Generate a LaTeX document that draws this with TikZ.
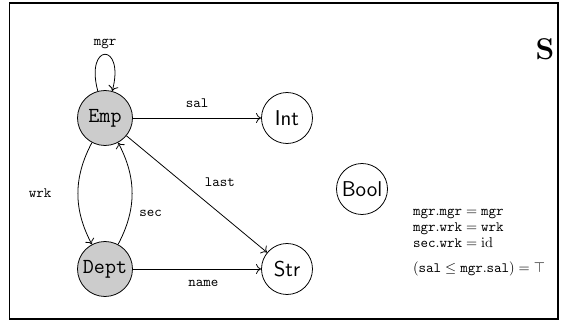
\documentclass[tikz,border=0pt]{standalone}
\usetikzlibrary{arrows.meta}
\begin{document}
\begin{tikzpicture}[x=0.7pt,y=-0.7pt,line width=0.55pt,
  tnode/.style={circle,draw,fill=black!20,minimum size=38.5pt,inner sep=1pt,font=\fontsize{15}{18}\selectfont\ttfamily},
  snode/.style={circle,draw,minimum size=35.7pt,inner sep=1pt,font=\fontsize{15}{18}\selectfont\sffamily},
  lbl/.style={font=\fontsize{10}{12}\selectfont\ttfamily},
  conn/.style={-{To[length=3.6pt,width=7pt]}}]
\useasboundingbox (0,0) rectangle (580,320);
\draw[line width=0.9pt] (9.5,3) rectangle (558,319);
\node[tnode] (emp) at (105,118) {Emp};
\node[tnode] (dept) at (105,269) {Dept};
\node[snode] (int) at (287,118) {Int};
\node[snode] (str) at (287,269) {Str};
\node[snode] (bool) at (362,189) {Bool};
\draw[conn] (emp) to[loop above,looseness=9] node[lbl,above] {mgr} (emp);
\draw[conn] (emp) -- node[lbl,above=4pt] {sal} (int);
\draw[conn] (emp) -- node[lbl,pos=0.5,above right=2pt] {last} (str);
\draw[conn] (dept) -- node[lbl,pos=0.55,below=4pt] {name} (str);
\draw[conn] (emp) to[bend right=28] node[lbl,midway,left=15pt] {wrk} (dept);
\draw[conn] (dept) to[bend right=28] node[lbl,pos=0.3,right=3pt] {sec} (emp);
\node[anchor=west,align=left,font=\fontsize{10}{11.2}\selectfont] (eqs) at (408,242.5)
  {$\mathtt{mgr}.\mathtt{mgr}=\mathtt{mgr}$\\
   $\mathtt{mgr}.\mathtt{wrk}=\mathtt{wrk}$\\
   $\mathtt{sec}.\mathtt{wrk}=\mathrm{id}$\\[6pt]
   $(\mathtt{sal}\leq\mathtt{mgr}.\mathtt{sal})=\top$};
\node[font=\fontsize{21}{25}\selectfont\bfseries] (s) at (545,49) {S};
\end{tikzpicture}
\end{document}
